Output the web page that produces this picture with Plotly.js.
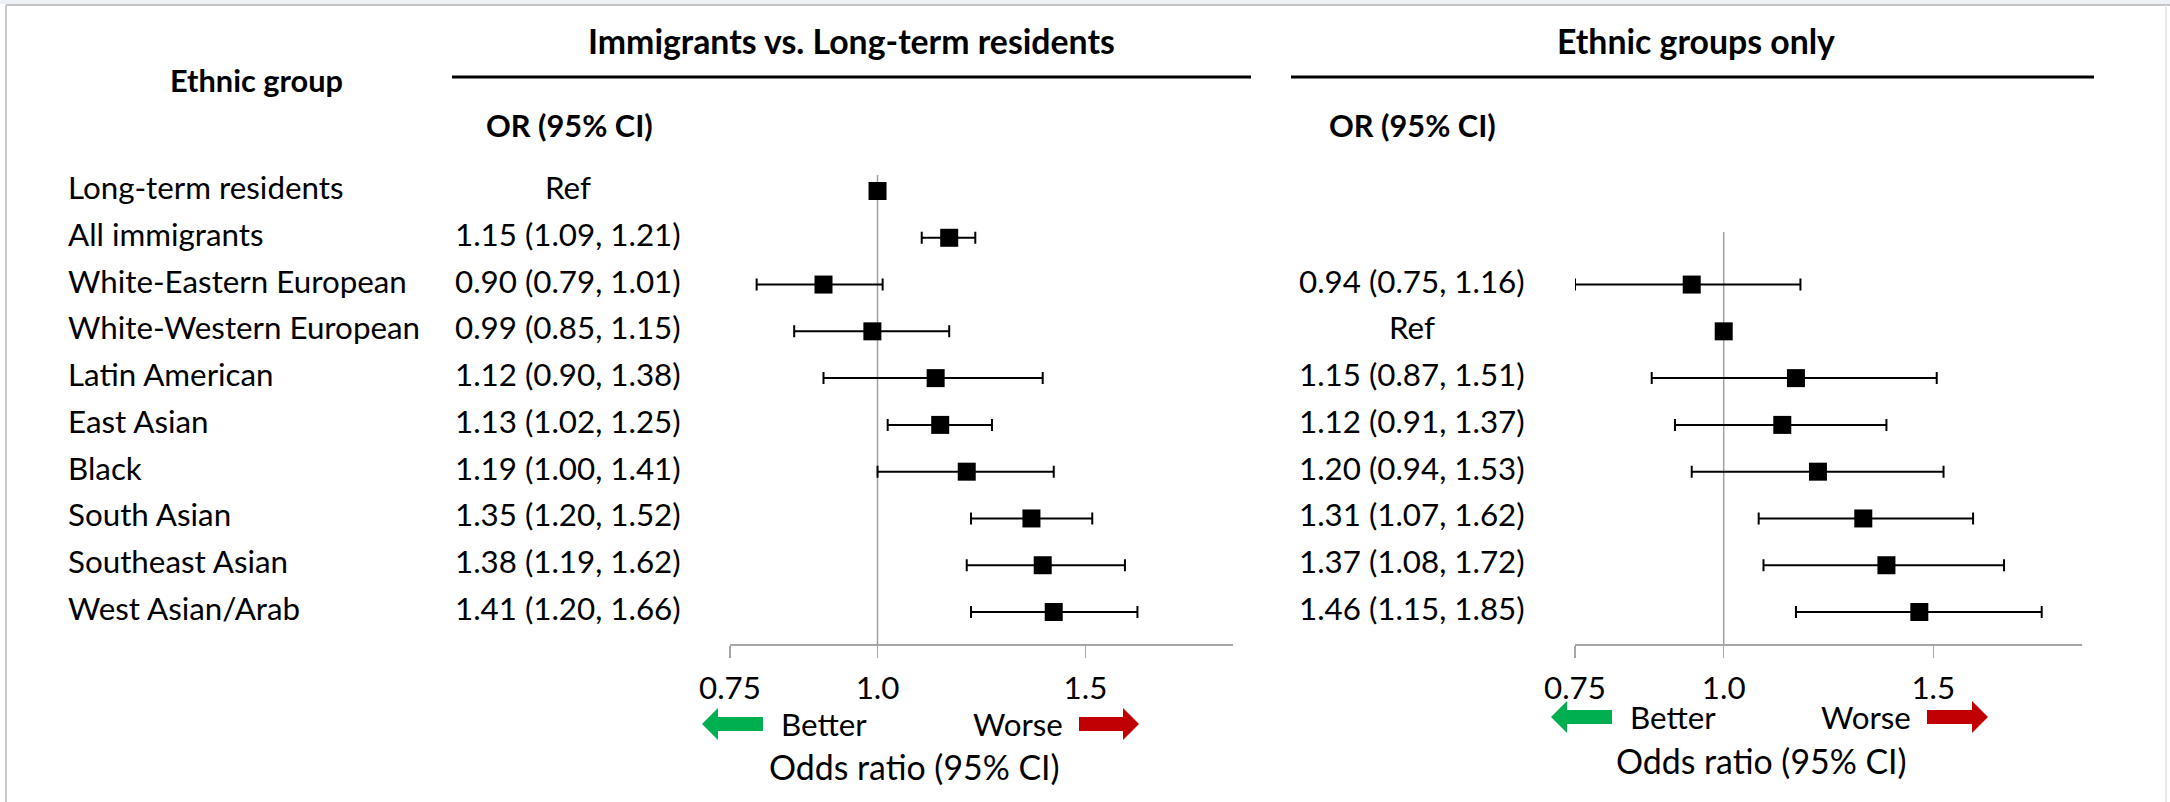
<!DOCTYPE html>
<html><head><meta charset="utf-8">
<script src="https://cdn.plot.ly/plotly-3.0.1.min.js"></script>
<style>html,body{margin:0;padding:0;background:#fff;}#chart{width:2170px;height:802px;}</style>
</head><body><div id="chart"></div>
<script>
// ---------- data ----------
const groups = ['Long-term residents','All immigrants','White-Eastern European','White-Western European',
  'Latin American','East Asian','Black','South Asian','Southeast Asian','West Asian/Arab'];
// Panel 1: Immigrants vs. Long-term residents (null CI = reference)
const immOR = [1.00, 1.15, 0.90, 0.99, 1.12, 1.13, 1.19, 1.35, 1.38, 1.41];
const immLo = [null, 1.09, 0.79, 0.85, 0.90, 1.02, 1.00, 1.20, 1.19, 1.20];
const immHi = [null, 1.21, 1.01, 1.15, 1.38, 1.25, 1.41, 1.52, 1.62, 1.66];
// Panel 2: Ethnic groups only (White-Western European = reference)
const ethOR = [null, null, 0.94, 1.00, 1.15, 1.12, 1.20, 1.31, 1.37, 1.46];
const ethLo = [null, null, 0.75, null, 0.87, 0.91, 0.94, 1.07, 1.08, 1.15];
const ethHi = [null, null, 1.16, null, 1.51, 1.37, 1.53, 1.62, 1.72, 1.85];
const tickVals = [0.75, 1.0, 1.5];
const tickText = ['0.75', '1.0', '1.5'];
const panelTitles = ['Immigrants vs. Long-term residents', 'Ethnic groups only'];
const colHeader = 'OR (95% CI)';
const rowHeader = 'Ethnic group';
const axisTitle = 'Odds ratio (95% CI)';
const betterText = 'Better', worseText = 'Worse';

// ---------- layout helpers ----------
const W = 2170, H = 802;
const FONT = 'Lato, Carlito, "Open Sans", sans-serif';
const px = x => x / W, py = y => 1 - y / H;
const cv = document.createElement('canvas').getContext('2d');
function fit(text, target, weight) {
  cv.font = weight + ' 100px Lato, sans-serif';
  return 100 * target / cv.measureText(text).width;
}
const R = (fit('Long-term residents', 275, 'normal') + fit('White-Western European', 353, 'normal')) / 2;
const B = fit('Ethnic group', 173, 'bold');
const T = fit('Ethnic groups only', 278, 'bold');
const A = R * 1.08;

const rowTop = 191, rowStep = 46.78, axisY = 644, plotTop = 160;
const yRange = [(axisY - rowTop) / rowStep, (plotTop - rowTop) / rowStep];

function label(or, lo, hi) {
  if (or == null) return '';
  if (lo == null) return 'Ref';
  return or.toFixed(2) + ' (' + lo.toFixed(2) + ', ' + hi.toFixed(2) + ')';
}

function trace(orA, loA, hiA, xa) {
  const x = [], y = [], ep = [], em = [];
  orA.forEach((v, i) => {
    if (v == null) return;
    x.push(v); y.push(i);
    ep.push(hiA[i] == null ? 0 : hiA[i] - v);
    em.push(loA[i] == null ? 0 : v - loA[i]);
  });
  return {
    type: 'scatter', mode: 'markers', x, y, xaxis: xa, yaxis: 'y',
    marker: {symbol: 'square', size: 18, color: '#000'},
    error_x: {type: 'data', symmetric: false, array: ep, arrayminus: em,
      color: '#000', thickness: 2, width: 6},
    hoverinfo: 'skip'
  };
}

const ann = [];
const txt = (text, x, y, size, opts) => ann.push(Object.assign({
  text, x: px(x), y: py(y), xref: 'paper', yref: 'paper', showarrow: false,
  xanchor: 'center', yanchor: 'middle', font: {family: FONT, size, color: '#000'}
}, opts || {}));

// headers
txt('<b>' + rowHeader + '</b>', 256, 80, B);
txt('<b>' + panelTitles[0] + '</b>', 851, 41, T);
txt('<b>' + panelTitles[1] + '</b>', 1696, 41, T);
txt('<b>' + colHeader + '</b>', 570, 125, B);
txt('<b>' + colHeader + '</b>', 1412, 125, B);

// rows
groups.forEach((g, i) => {
  ann.push({text: g, x: px(66), y: i, xref: 'paper', yref: 'y', yshift: 4, showarrow: false,
    xanchor: 'left', yanchor: 'middle', font: {family: FONT, size: R, color: '#000'}});
  const l1 = label(immOR[i], immLo[i], immHi[i]);
  if (l1) ann.push({text: l1, x: px(568), y: i, xref: 'paper', yref: 'y', yshift: 4, showarrow: false,
    xanchor: 'center', yanchor: 'middle', font: {family: FONT, size: R, color: '#000'}});
  const l2 = label(ethOR[i], ethLo[i], ethHi[i]);
  if (l2) ann.push({text: l2, x: px(1412), y: i, xref: 'paper', yref: 'y', yshift: 4, showarrow: false,
    xanchor: 'center', yanchor: 'middle', font: {family: FONT, size: R, color: '#000'}});
});

// better / worse / axis titles
const arrowYL = 724, arrowYR = 717;
txt(betterText, 824, arrowYL, R); txt(worseText, 1018, arrowYL, R);
txt(betterText, 1673, arrowYR, R); txt(worseText, 1866, arrowYR, R);
txt(axisTitle, 914, 767, A); txt(axisTitle, 1761, 761, A);

// shapes
const shapes = [];
const line = (x0, y0, x1, y1, color, width) => shapes.push({type: 'line', xref: 'paper', yref: 'paper',
  x0: px(x0), y0: py(y0), x1: px(x1), y1: py(y1), line: {color, width}});
shapes.push({type: 'rect', xref: 'paper', yref: 'paper', x0: 0, x1: 1, y0: py(4), y1: 1,
  fillcolor: '#eef2f7', line: {width: 0}, layer: 'below'});
line(6, 5, W, 5, '#c4c4c4', 2);
line(6, 5, 6, H, '#c8ccd2', 2);
line(2166, 5, 2166, H, '#dfe5ec', 1.5);
line(452, 77, 1251, 77, '#000', 3);
line(1291, 77, 2094, 77, '#000', 3);
// reference lines at OR = 1
shapes.push({type: 'line', xref: 'x', yref: 'paper', x0: 1, x1: 1, y0: py(axisY), y1: py(175),
  line: {color: '#a0a0a0', width: 1.5}, layer: 'below'});
shapes.push({type: 'line', xref: 'x2', yref: 'paper', x0: 1, x1: 1, y0: py(axisY), y1: py(232),
  line: {color: '#a0a0a0', width: 1.5}, layer: 'below'});
// arrows
function arrow(tail, tip, yc, color) {
  const dir = Math.sign(tip - tail), head = 16, hh = 16, sh = 7;
  const base = tip - dir * head;
  const pts = [[tail, yc - sh], [base, yc - sh], [base, yc - hh], [tip, yc], [base, yc + hh], [base, yc + sh], [tail, yc + sh]];
  shapes.push({type: 'path', xref: 'paper', yref: 'paper', fillcolor: color, line: {width: 0},
    path: 'M' + pts.map(p => px(p[0]) + ',' + py(p[1])).join('L') + 'Z'});
}
arrow(763, 702, arrowYL, '#00b050');
arrow(1079, 1139, arrowYL, '#c00000');
arrow(1612, 1551, arrowYR, '#00b050');
arrow(1927, 1988, arrowYR, '#c00000');

const xax = dom => ({
  type: 'log', range: [Math.log10(0.75), Math.log10(2.0)], domain: dom, anchor: 'y',
  showline: true, linecolor: '#a6a6a6', linewidth: 1.5, ticks: 'outside', ticklen: 12,
  tickwidth: 1.5, tickcolor: '#a6a6a6', tickvals: tickVals, ticktext: tickText,
  tickfont: {family: FONT, size: R, color: '#000'}, ticklabelstandoff: 4,
  showgrid: false, zeroline: false, fixedrange: true
});

const layout = {
  width: W, height: H, margin: {l: 0, r: 0, t: 0, b: 0},
  paper_bgcolor: '#fff', plot_bgcolor: 'rgba(0,0,0,0)', showlegend: false,
  xaxis: xax([px(730), px(1233)]),
  xaxis2: xax([px(1575), px(2082)]),
  yaxis: {domain: [py(axisY), py(plotTop)], range: yRange, visible: false, fixedrange: true},
  annotations: ann, shapes
};

Plotly.newPlot('chart', [trace(immOR, immLo, immHi, 'x'), trace(ethOR, ethLo, ethHi, 'x2')], layout,
  {staticPlot: true, displayModeBar: false});
</script></body></html>
